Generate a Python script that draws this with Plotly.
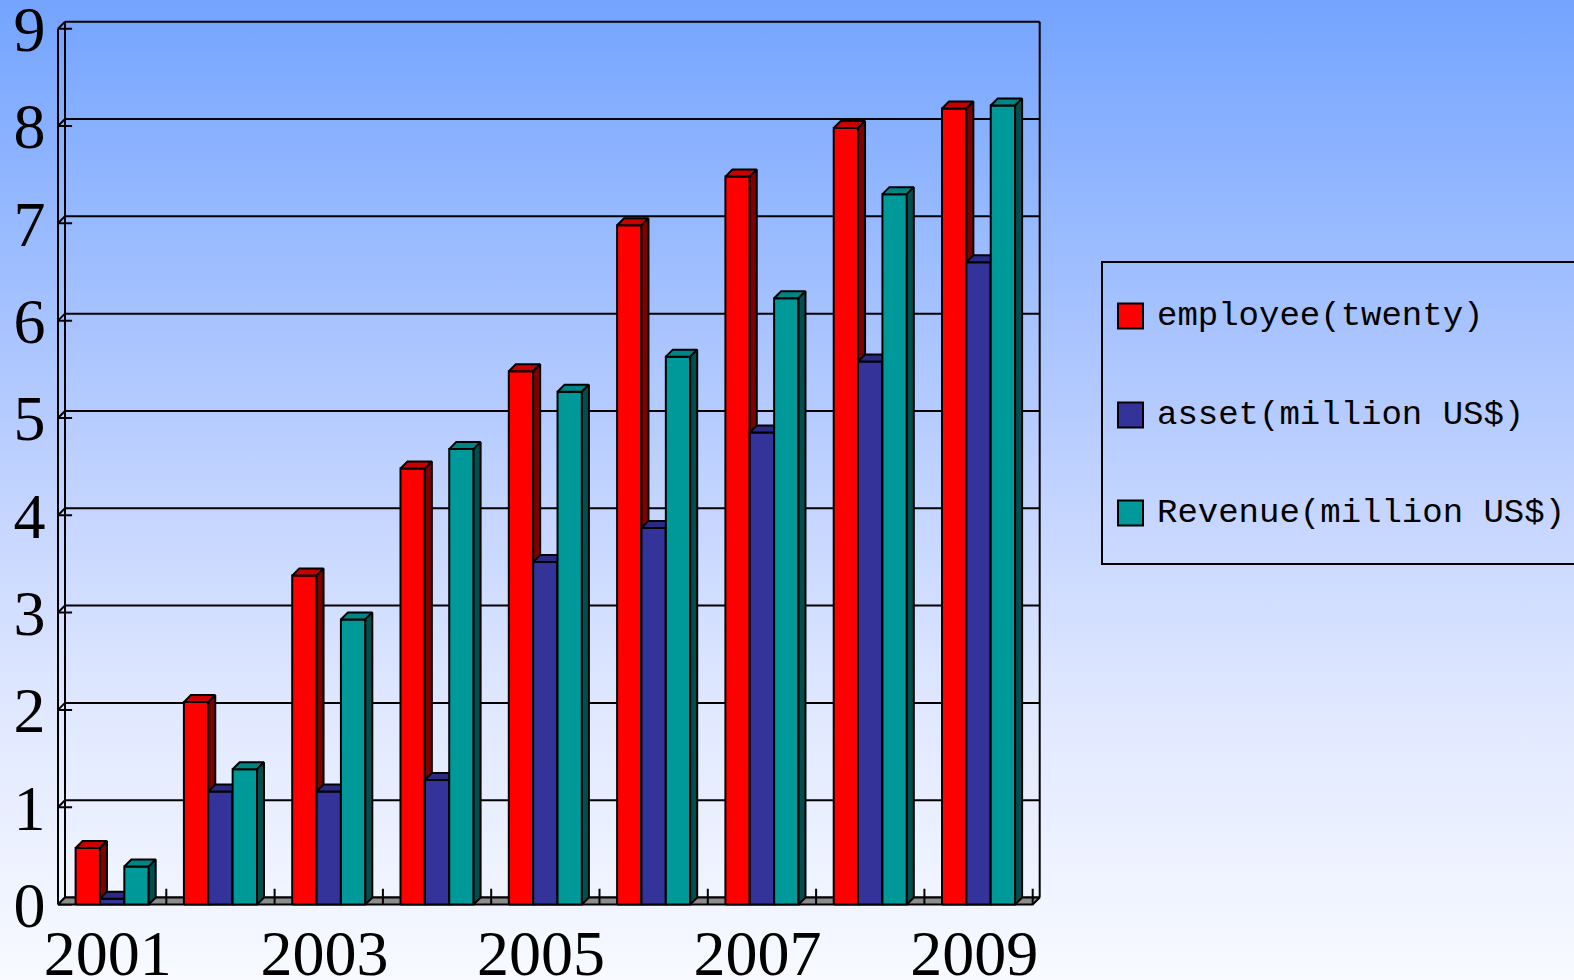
import base64
import plotly.graph_objects as go

# ---------------- data ----------------
years = ["2001", "2002", "2003", "2004", "2005", "2006", "2007", "2008", "2009"]
series_names = ["employee(twenty)", "asset(million US$)", "Revenue(million US$)"]
employee = [0.58, 2.08, 3.38, 4.48, 5.48, 6.98, 7.48, 7.98, 8.18]
asset = [0.06, 1.16, 1.16, 1.28, 3.52, 3.87, 4.85, 5.58, 6.6]
revenue = [0.39, 1.39, 2.93, 4.68, 5.27, 5.63, 6.23, 7.3, 8.21]
y_ticks = [0, 1, 2, 3, 4, 5, 6, 7, 8, 9]
x_label_years = ["2001", "2003", "2005", "2007", "2009"]

front_colors = ["#FF0000", "#333399", "#009999"]
top_colors = ["#C80000", "#2A2A85", "#008585"]
side_colors = ["#800000", "#1C1C5C", "#004F4F"]

# ---------------- geometry (pixels -> axis scale) ----------------
W, H = 1574, 980
px_x = 108.3   # pixels per category
px_y = 97.31   # pixels per unit
x0_px = 58.0   # pixel of x=-0.5
y0_px = 897.5  # pixel of y=0
dx = 7.0 / px_x
dy = 7.0 / px_y
xr = [-0.56, 8.62]
yr = [-0.13, 9.06]
dom_x = [(x0_px + (xr[0] + 0.5) * px_x) / W, (x0_px + (xr[1] + 0.5) * px_x) / W]
dom_y = [(H - (y0_px - yr[0] * px_y)) / H, (H - (y0_px - yr[1] * px_y)) / H]

bw = 0.225
offsets = [-bw, 0.0, bw]

fig = go.Figure()

# floor
fx = [-0.5, 8.5, 8.5 + dx, -0.5 + dx, -0.5]
fy = [-dy, -dy, 0, 0, -dy]
fig.add_trace(go.Scatter(x=fx, y=fy, mode="lines", fill="toself", fillcolor="#8c8c8c",
                         line=dict(color="black", width=2), hoverinfo="skip", showlegend=False))

shapes = []
# back wall gridlines
for k in y_ticks:
    shapes.append(dict(type="line", xref="x", yref="y", x0=-0.5 + dx, x1=8.5 + dx, y0=k, y1=k,
                       line=dict(color="black", width=2), layer="below"))
    shapes.append(dict(type="line", xref="x", yref="y", x0=-0.5, x1=-0.5 + dx, y0=k - dy, y1=k,
                       line=dict(color="black", width=2), layer="below"))
    shapes.append(dict(type="line", xref="x", yref="y", x0=-0.5, x1=-0.5 + 0.13, y0=k - dy, y1=k - dy,
                       line=dict(color="black", width=2), layer="below"))
# walls
shapes.append(dict(type="line", xref="x", yref="y", x0=-0.5, x1=-0.5, y0=-dy, y1=9 - dy,
                   line=dict(color="black", width=2), layer="below"))
shapes.append(dict(type="line", xref="x", yref="y", x0=-0.5 + dx, x1=-0.5 + dx, y0=0, y1=9,
                   line=dict(color="black", width=2), layer="below"))
shapes.append(dict(type="line", xref="x", yref="y", x0=8.5 + dx, x1=8.5 + dx, y0=0, y1=9,
                   line=dict(color="black", width=2), layer="below"))

# bars
for s, vals in enumerate([employee, asset, revenue]):
    fxs, fys, txs, tys, sxs, sys_ = [], [], [], [], [], []
    for i, v in enumerate(vals):
        a = i + offsets[s] - bw / 2
        b = a + bw
        top = v - dy
        fxs += [a, b, b, a, a, None]
        fys += [-dy, -dy, top, top, -dy, None]
        txs += [a, b, b + dx, a + dx, a, None]
        tys += [top, top, v, v, top, None]
        sxs += [b, b + dx, b + dx, b, b, None]
        sys_ += [-dy, 0, v, top, -dy, None]
    for xs, ys, col in [(fxs, fys, front_colors[s]), (txs, tys, top_colors[s]), (sxs, sys_, side_colors[s])]:
        fig.add_trace(go.Scatter(x=xs, y=ys, mode="lines", fill="toself", fillcolor=col,
                                 line=dict(color="black", width=2), hoverinfo="skip",
                                 showlegend=False))

# floor ticks (category boundaries)
tx, ty = [], []
for i in range(len(years)):
    tx += [i + 0.5, i + 0.5, None]
    ty += [-dy, 0.09, None]
fig.add_trace(go.Scatter(x=tx, y=ty, mode="lines", line=dict(color="black", width=2),
                         hoverinfo="skip", showlegend=False))

# legend (drawn manually)
leg_x0, leg_y0, leg_x1, leg_y1 = 1102, 262, 1580, 564
shapes.append(dict(type="rect", xref="paper", yref="paper",
                   x0=leg_x0 / W, x1=leg_x1 / W, y0=1 - leg_y1 / H, y1=1 - leg_y0 / H,
                   line=dict(color="black", width=2), fillcolor="rgba(0,0,0,0)"))
annotations = []
row_y = [316, 415, 513]
for s, name in enumerate(series_names):
    cy = row_y[s]
    shapes.append(dict(type="rect", xref="paper", yref="paper",
                       x0=1118 / W, x1=1143 / W, y0=1 - (cy + 12.5) / H, y1=1 - (cy - 12.5) / H,
                       line=dict(color="black", width=2), fillcolor=front_colors[s]))
    annotations.append(dict(xref="paper", yref="paper", x=1155 / W, y=1 - cy / H,
                            text=name, showarrow=False, xanchor="left", yanchor="middle",
                            font=dict(family="Liberation Mono", size=34, color="black")))

# gradient background via SVG image
svg = ('<svg xmlns="http://www.w3.org/2000/svg" width="100" height="100" preserveAspectRatio="none">'
       '<defs><linearGradient id="g" x1="0" y1="0" x2="0" y2="1">'
       '<stop offset="0" stop-color="#74a4ff"/>'
       '<stop offset="0.49" stop-color="#c0d2ff"/>'
       '<stop offset="0.72" stop-color="#e0e8ff"/>'
       '<stop offset="1" stop-color="#f8faff"/>'
       '</linearGradient></defs><rect width="100" height="100" fill="url(#g)"/></svg>')
src = "data:image/svg+xml;base64," + base64.b64encode(svg.encode()).decode()

fig.update_layout(
    width=W, height=H,
    margin=dict(l=0, r=0, t=0, b=0),
    paper_bgcolor="#f8faff",
    plot_bgcolor="rgba(0,0,0,0)",
    showlegend=False,
    shapes=shapes,
    annotations=annotations,
    images=[dict(source=src, xref="paper", yref="paper", x=0, y=1, sizex=1, sizey=1,
                 sizing="stretch", layer="below", xanchor="left", yanchor="top")],
    xaxis=dict(domain=dom_x, range=xr, showgrid=False, zeroline=False, showline=False,
               tickmode="array", tickvals=[years.index(y) - 0.04 for y in x_label_years],
               ticktext=x_label_years, ticks="", ticklabeloverflow="allow",
               tickfont=dict(family="Liberation Serif", size=64, color="black"),
               automargin=False, fixedrange=True),
    yaxis=dict(domain=dom_y, range=yr, showgrid=False, zeroline=False, showline=False,
               tickmode="array", tickvals=[k - dy for k in y_ticks],
               ticktext=[str(k) for k in y_ticks], ticks="", ticklabeloverflow="allow",
               ticklabelstandoff=5,
               tickfont=dict(family="Liberation Serif", size=64, color="black"),
               automargin=False, fixedrange=True),
)

fig.write_html("out.html", config={"displayModeBar": False},
               post_script="document.body.style.margin='0';document.body.style.padding='0';")
